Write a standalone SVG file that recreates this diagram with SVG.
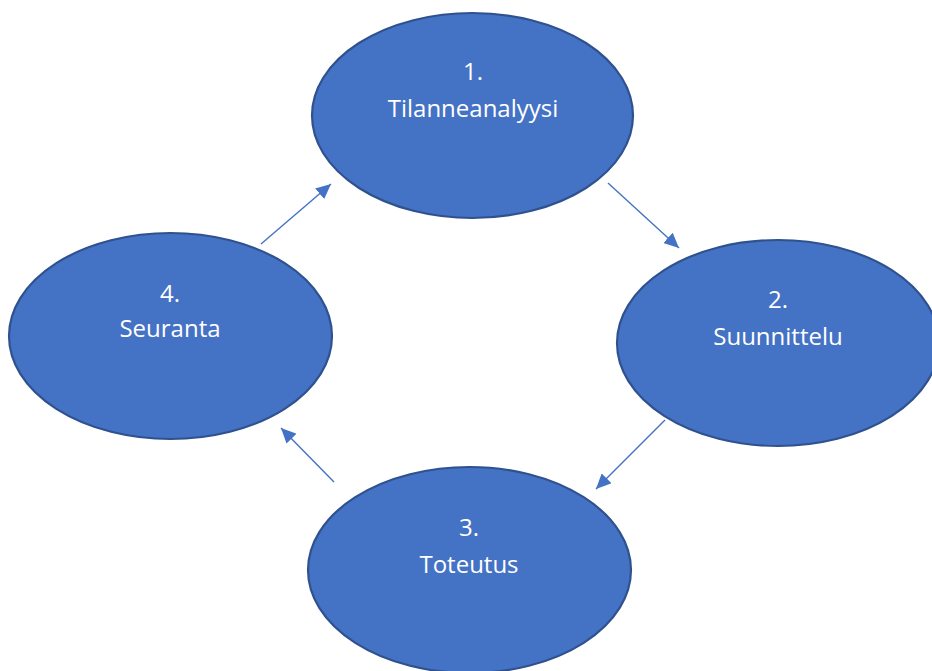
<svg xmlns="http://www.w3.org/2000/svg" width="932" height="671" viewBox="0 0 932 671">
<style>
.node ellipse{fill:#4472C4;stroke:#2F528F;stroke-width:2.2}
.node text{fill:#FFFFFF;font-family:"Open Sans","Liberation Sans",sans-serif;font-size:24px;text-anchor:middle}
.edge{stroke:#4472C4;stroke-width:1.4;fill:none;marker-end:url(#ah)}
</style>
<defs>
<marker id="ah" markerUnits="userSpaceOnUse" markerWidth="16" markerHeight="14" refX="15" refY="7" orient="auto">
<path d="M0,0 L15,7 L0,14 Z" fill="#4472C4"/>
</marker>
</defs>
<rect width="932" height="671" fill="#FFFFFF"/>
<g id="connectors">
<line class="edge" x1="608" y1="183" x2="679" y2="248"/>
<line class="edge" x1="665" y1="420" x2="596" y2="489"/>
<line class="edge" x1="334" y1="482" x2="281" y2="428"/>
<line class="edge" x1="261" y1="244" x2="331" y2="184"/>
</g>
<g id="node1" class="node">
<ellipse cx="472.5" cy="115.5" rx="160.5" ry="102.5"/>
<text x="473" y="80">1.</text>
<text x="473" y="117">Tilanneanalyysi</text>
</g>
<g id="node2" class="node">
<ellipse cx="778" cy="343" rx="161" ry="103"/>
<text x="778" y="308">2.</text>
<text x="778" y="345">Suunnittelu</text>
</g>
<g id="node3" class="node">
<ellipse cx="469.5" cy="570" rx="161.5" ry="103"/>
<text x="469" y="536">3.</text>
<text x="469" y="573">Toteutus</text>
</g>
<g id="node4" class="node">
<ellipse cx="170.5" cy="336" rx="161.5" ry="103"/>
<text x="170" y="302">4.</text>
<text x="170" y="337">Seuranta</text>
</g>
</svg>
